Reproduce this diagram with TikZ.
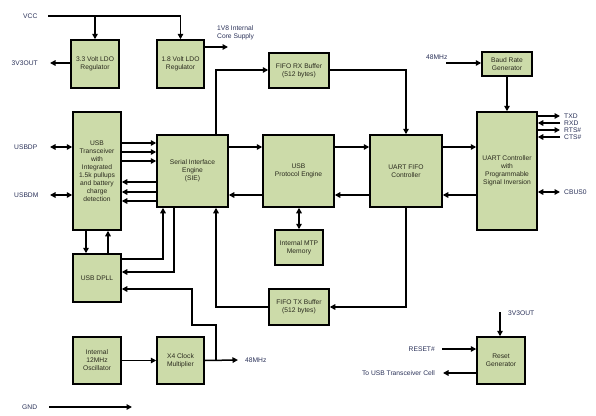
\documentclass[tikz,border=0pt]{standalone}
\usepackage{fontspec}
\setmainfont{Liberation Sans}
\usetikzlibrary{arrows.meta,calc}
\definecolor{boxfill}{HTML}{CCDBA9}
\definecolor{lbl}{HTML}{2A3158}
\definecolor{btxt}{HTML}{2A2A1E}
\begin{document}
\begin{tikzpicture}[x=1pt,y=-1pt,
  blk/.style={draw=black,line width=1.5pt,fill=boxfill,text=btxt,align=center,
    inner sep=0pt,font=\fontsize{6.7}{8}\selectfont},
  lab/.style={text=lbl,inner sep=0pt,font=\fontsize{6.7}{7}\selectfont},
  arr/.style={line width=1.5pt,-{Triangle[length=5.5pt,width=5.5pt]}},
  darr/.style={line width=1.5pt,{Triangle[length=5.5pt,width=5.5pt]}-{Triangle[length=5.5pt,width=5.5pt]}},
  ln/.style={line width=1.5pt}]
\useasboundingbox (0,0) rectangle (596,415);
% boxes
\node[blk,minimum width=48,minimum height=48] (ldo33) at (95,64) {3.3 Volt LDO\\Regulator};
\node[blk,minimum width=47,minimum height=48] (ldo18) at (180.5,64) {1.8 Volt LDO\\Regulator};
\node[blk,minimum width=60,minimum height=35] (fiforx) at (299,70.5) {FIFO RX Buffer\\(512 bytes)};
\node[blk,minimum width=50,minimum height=24] (baud) at (507,64) {Baud Rate\\Generator};
\node[blk,minimum width=48,minimum height=118] (trans) at (97,171) {USB\\Transceiver\\with\\Integrated\\1.5k pullups\\and battery\\charge\\detection};
\node[blk,minimum width=71,minimum height=72] (sie) at (192.5,171) {Serial Interface\\Engine\\(SIE)};
\node[blk,minimum width=71,minimum height=72] (upe) at (298.5,171) {USB\\Protocol Engine};
\node[blk,minimum width=72,minimum height=72] (uff) at (406,171) {UART FIFO\\Controller};
\node[blk,minimum width=60,minimum height=118] (uart) at (507,171) {UART Controller\\with\\Programmable\\Signal Inversion};
\node[blk,minimum width=48,minimum height=35] (mtp) at (299,247.5) {Internal MTP\\Memory};
\node[blk,minimum width=48,minimum height=48] (dpll) at (97,278) {USB DPLL};
\node[blk,minimum width=60,minimum height=36] (fifotx) at (299,307) {FIFO TX Buffer\\(512 bytes)};
\node[blk,minimum width=48,minimum height=47] (osc) at (97,360.5) {Internal\\12MHz\\Oscillator};
\node[blk,minimum width=47,minimum height=47] (x4) at (180.5,360.5) {X4 Clock\\Multiplier};
\node[blk,minimum width=48,minimum height=47] (rst) at (501,360.5) {Reset\\Generator};
% labels
\node[lab,anchor=west] (vcc) at (23,16) {VCC};
\node[lab,anchor=east] (v3out) at (38,63) {3V3OUT};
\node[lab,anchor=west,align=left,font=\fontsize{6.7}{8}\selectfont] (v18) at (217,33) {1V8 Internal\\Core Supply};
\node[lab,anchor=west] (f48a) at (426,57) {48MHz};
\node[lab,anchor=west] (usbdp) at (14,147) {USBDP};
\node[lab,anchor=west] (usbdm) at (14,195) {USBDM};
\node[lab,anchor=west] (txd) at (564,116) {TXD};
\node[lab,anchor=west] (rxd) at (564,123) {RXD};
\node[lab,anchor=west] (rts) at (564,130) {RTS\#};
\node[lab,anchor=west] (cts) at (564,137) {CTS\#};
\node[lab,anchor=west] (cbus) at (564,192) {CBUS0};
\node[lab,anchor=west] (f48b) at (245,360) {48MHz};
\node[lab,anchor=west] (gnd) at (22,407) {GND};
\node[lab,anchor=west] (r3v3) at (508,313) {3V3OUT};
\node[lab,anchor=east] (rstn) at (435,349) {RESET\#};
\node[lab,anchor=east] (tousb) at (435,373) {To USB Transceiver Cell};
% free ends
\coordinate (vccs) at (48,16);
\coordinate (v33e) at (50,63);
\coordinate (v18e) at (228,47);
\coordinate (f48s) at (446,63);
\coordinate (dpe) at (50,147);
\coordinate (dme) at (50,195);
\coordinate (sige) at (560,0);
\coordinate (f48e) at (238,360);
\coordinate (gnds) at (49,407);
\coordinate (gnde) at (132,407);
\coordinate (r3s) at (500,312);
\coordinate (rsts) at (442,349);
\coordinate (tue) at (443,373);
% power
\draw[ln] (vccs) -- (vccs -| ldo18.north);
\draw[arr] (vccs -| ldo33.north) -- (ldo33.north);
\draw[arr] (vccs -| ldo18.north) -- (ldo18.north);
\draw[arr] (ldo33.west |- v33e) -- (v33e);
\draw[arr] (ldo18.east |- v18e) -- (v18e);
% USB side
\draw[darr] (dpe) -- (trans.west |- dpe);
\draw[darr] (dme) -- (trans.west |- dme);
\foreach \y in {143,152,161} \draw[arr] (trans.east |- 0,\y) -- (sie.west |- 0,\y);
\foreach \y in {182,192,201} \draw[arr] (sie.west |- 0,\y) -- (trans.east |- 0,\y);
\draw[arr] (trans.south -| 86,0) -- (dpll.north -| 86,0);
\draw[arr] (dpll.north -| 108,0) -- (trans.south -| 108,0);
\draw[arr] (dpll.east |- 0,259) -- (163,259) -- (sie.south -| 163,0);
\draw[arr] (sie.south -| 174,0) -- (174,272) -- (dpll.east |- 0,272);
% SIE / protocol
\draw[arr] (sie.north -| 216,0) -- (216,70) -- (fiforx.west |- 0,70);
\draw[arr] (sie.east |- 0,147) -- (upe.west |- 0,147);
\draw[arr] (upe.west |- 0,195) -- (sie.east |- 0,195);
\draw[darr] (upe.south -| mtp.north) -- (mtp.north);
\draw[arr] (upe.east |- 0,147) -- (uff.west |- 0,147);
\draw[arr] (uff.west |- 0,195) -- (upe.east |- 0,195);
\draw[arr] (fiforx.east |- 0,70) -- (0,70 -| uff.north) -- (uff.north);
\draw[arr] (uff.south) -- (fifotx.east -| uff.south) -- (fifotx.east);
\draw[arr] (fifotx.west) -- (fifotx.west -| 216,0) -- (sie.south -| 216,0);
\draw[arr] (uff.east |- 0,147) -- (uart.west |- 0,147);
\draw[arr] (uart.west |- 0,195) -- (uff.east |- 0,195);
% UART side
\draw[arr] (f48s) -- (baud.west |- f48s);
\draw[arr] (baud.south) -- (uart.north);
\draw[arr] (uart.east |- txd) -- (sige |- txd);
\draw[arr] (sige |- rxd) -- (uart.east |- rxd);
\draw[arr] (uart.east |- rts) -- (sige |- rts);
\draw[arr] (sige |- cts) -- (uart.east |- cts);
\draw[darr] (uart.east |- cbus) -- (sige |- cbus);
% clocks
\draw[arr] (osc.east) -- (x4.west);
\draw[arr] (x4.east) -- (f48e);
\draw[arr] (216,360) -- (216,325) -- (192,325) -- (192,289) -- (dpll.east |- 0,289);
\draw[arr] (gnds) -- (gnde);
% reset
\draw[arr] (r3s) -- (r3s |- rst.north);
\draw[arr] (rsts) -- (rst.west |- rsts);
\draw[arr] (rst.west |- tue) -- (tue);
\end{tikzpicture}
\end{document}
